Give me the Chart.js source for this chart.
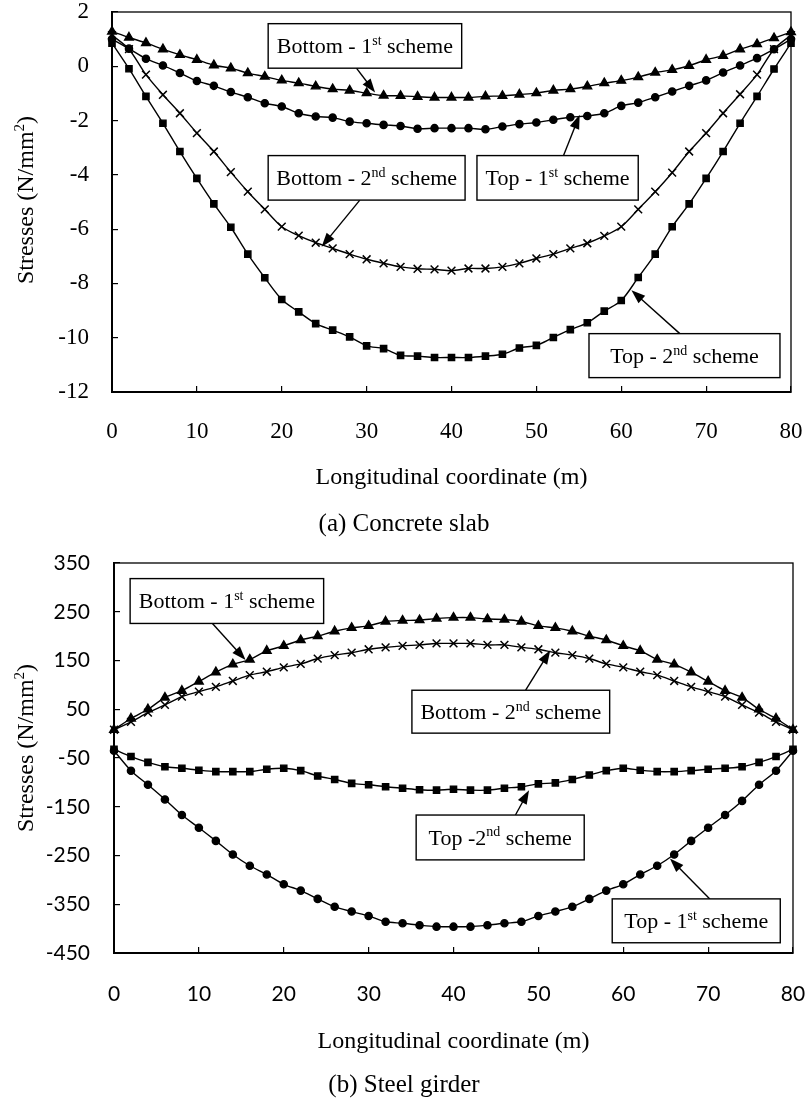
<!DOCTYPE html>
<html>
<head>
<meta charset="utf-8">
<script src="https://cdn.jsdelivr.net/npm/chart.js@4.4.1/dist/chart.umd.min.js"></script>
<style>
  html, body { margin: 0; padding: 0; background: #fff; }
  #chartA { position: absolute; left: 0; top: 0; }
  #chartB { position: absolute; left: 0; top: 545px; }
</style>
</head>
<body>
<canvas id="chartA" width="806" height="545"></canvas>
<canvas id="chartB" width="806" height="555"></canvas>
<script>
// longitudinal coordinate (m), one station every 2 m
const positions = [0, 2, 4, 6, 8, 10, 12, 14, 16, 18, 20, 22, 24, 26, 28, 30, 32, 34, 36, 38, 40,
  42, 44, 46, 48, 50, 52, 54, 56, 58, 60, 62, 64, 66, 68, 70, 72, 74, 76, 78, 80];

// (a) concrete slab stresses (N/mm2)
const slabBottom1 = [1.28, 1.06, 0.86, 0.63, 0.42, 0.24, 0.04, -0.07, -0.25, -0.38, -0.52, -0.62, -0.74, -0.84, -0.89, -0.99, -1.08, -1.09, -1.12, -1.15, -1.15,
  -1.15, -1.11, -1.09, -1.04, -0.99, -0.89, -0.84, -0.74, -0.62, -0.53, -0.40, -0.23, -0.13, 0.02, 0.24, 0.39, 0.63, 0.82, 1.04, 1.26];
const slabTop1 = [1.0, 0.65, 0.28, 0.03, -0.25, -0.54, -0.72, -0.95, -1.14, -1.36, -1.48, -1.73, -1.85, -1.89, -2.04, -2.10, -2.16, -2.20, -2.30, -2.28, -2.28,
  -2.28, -2.32, -2.22, -2.13, -2.07, -1.97, -1.88, -1.83, -1.73, -1.46, -1.34, -1.14, -0.93, -0.72, -0.52, -0.23, 0.03, 0.30, 0.63, 1.0];
const slabBottom2 = [1.15, 0.63, -0.31, -1.05, -1.73, -2.46, -3.14, -3.90, -4.62, -5.27, -5.91, -6.24, -6.50, -6.71, -6.92, -7.11, -7.26, -7.39, -7.46, -7.48, -7.53,
  -7.45, -7.45, -7.39, -7.26, -7.08, -6.92, -6.71, -6.52, -6.25, -5.91, -5.27, -4.62, -3.92, -3.14, -2.46, -1.73, -1.03, -0.31, 0.63, 1.15];
const slabTop2 = [0.85, -0.09, -1.11, -2.10, -3.14, -4.13, -5.07, -5.93, -6.92, -7.79, -8.59, -9.05, -9.48, -9.72, -9.97, -10.30, -10.40, -10.65, -10.68, -10.73, -10.73,
  -10.73, -10.68, -10.61, -10.38, -10.28, -9.99, -9.70, -9.45, -9.02, -8.63, -7.78, -6.92, -5.91, -5.07, -4.13, -3.14, -2.10, -1.11, -0.10, 0.85];

// (b) steel girder stresses (N/mm2)
const girderBottom1 = [8, 31, 50, 74, 88, 107, 126, 142, 152, 170, 180, 192, 200, 210, 217, 221, 230, 232, 233, 236, 238,
  238, 235, 234, 230, 221, 217, 210, 200, 192, 180, 170, 152, 142, 126, 107, 88, 74, 50, 31, 8];
const girderBottom2 = [8, 24, 43, 59, 76, 86, 96, 108, 120, 127, 136, 143, 154, 161, 166, 173, 177, 180, 182, 185, 185,
  185, 182, 182, 177, 173, 166, 161, 154, 143, 136, 127, 120, 108, 96, 86, 76, 59, 43, 24, 8];
const girderTop2 = [-32, -47, -59, -68, -71, -75, -78, -78, -78, -73, -71, -76, -87, -94, -102, -105, -109, -112, -115, -116, -114,
  -116, -116, -112, -109, -103, -101, -94, -85, -76, -71, -75, -78, -78, -76, -73, -71, -68, -59, -47, -32];
const girderTop1 = [-35, -76, -105, -135, -167, -193, -220, -248, -271, -289, -309, -322, -339, -355, -365, -374, -386, -389, -393, -396, -396,
  -396, -393, -389, -386, -374, -365, -355, -339, -322, -309, -289, -271, -248, -220, -193, -167, -138, -105, -76, -35];

// axis ranges and tick steps
const slabRange = [-12, 2, 2];
const girderRange = [-450, 350, 100];
const xRange = [0, 80, 10];

// callout boxes: box [x0, x1, yTop, yBottom], arrow from -> to, in data units
const slabNotes = [
  { parts: [['Bottom - 1', 0], ['st', 1], [' scheme', 0]], box: [18.4, 41.2, 1.57, -0.07], from: [28.8, -0.07], to: [31, -0.97] },
  { parts: [['Bottom - 2', 0], ['nd', 1], [' scheme', 0]], box: [18.4, 41.6, -3.29, -4.93], from: [29.2, -4.93], to: [24.7, -6.65] },
  { parts: [['Top - 1', 0], ['st', 1], [' scheme', 0]], box: [43.0, 62.0, -3.29, -4.93], from: [53.2, -3.29], to: [55.1, -1.79] },
  { parts: [['Top - 2', 0], ['nd', 1], [' scheme', 0]], box: [56.2, 78.7, -9.85, -11.47], from: [66.9, -9.85], to: [61.2, -8.25] }
];
const girderNotes = [
  { parts: [['Bottom - 1', 0], ['st', 1], [' scheme', 0]], box: [1.9, 24.7, 318, 226], from: [11.6, 226], to: [15.5, 151] },
  { parts: [['Bottom - 2', 0], ['nd', 1], [' scheme', 0]], box: [35.1, 58.4, 89, 1], from: [48.5, 89], to: [51.4, 171] },
  { parts: [['Top -2', 0], ['nd', 1], [' scheme', 0]], box: [35.6, 55.4, -167, -259], from: [47.3, -167], to: [48.9, -116] },
  { parts: [['Top - 1', 0], ['st', 1], [' scheme', 0]], box: [58.7, 78.5, -339, -429], from: [70.2, -339], to: [65.5, -256] }
];

const SERIF = '"Liberation Serif", "Times New Roman", serif';
const SANS = 'Lato, "Open Sans", sans-serif';

// draws text made of [string, isSuperscript] parts, centred on (cx, cy)
function drawParts(ctx, parts, cx, cy, size) {
  const supSize = Math.round(size * 0.62);
  let total = 0;
  parts.forEach(p => {
    ctx.font = (p[1] ? supSize : size) + 'px ' + SERIF;
    total += ctx.measureText(p[0]).width;
  });
  let x = cx - total / 2;
  ctx.textAlign = 'left';
  ctx.textBaseline = 'alphabetic';
  parts.forEach(p => {
    ctx.font = (p[1] ? supSize : size) + 'px ' + SERIF;
    ctx.fillText(p[0], x, cy + size * 0.33 - (p[1] ? size * 0.38 : 0));
    x += ctx.measureText(p[0]).width;
  });
}

function drawArrow(ctx, x0, y0, x1, y1) {
  const ang = Math.atan2(y1 - y0, x1 - x0);
  const len = 14, half = 5;
  ctx.beginPath();
  ctx.moveTo(x0, y0);
  ctx.lineTo(x1 - Math.cos(ang) * len * 0.8, y1 - Math.sin(ang) * len * 0.8);
  ctx.stroke();
  ctx.beginPath();
  ctx.moveTo(x1, y1);
  ctx.lineTo(x1 - Math.cos(ang) * len + Math.sin(ang) * half, y1 - Math.sin(ang) * len - Math.cos(ang) * half);
  ctx.lineTo(x1 - Math.cos(ang) * len - Math.sin(ang) * half, y1 - Math.sin(ang) * len + Math.cos(ang) * half);
  ctx.closePath();
  ctx.fill();
}

function buildChart(id, o) {
  const styles = {
    triangle: { pointStyle: 'triangle', pointRadius: 5 },
    circle: { pointStyle: 'circle', pointRadius: 3.6 },
    cross: { pointStyle: 'crossRot', pointRadius: 5.5, pointBorderWidth: 1.5 },
    square: { pointStyle: 'rect', pointRadius: 4.4 }
  };

  const decor = {
    id: 'decor' + id,
    afterDatasetsDraw(chart) {
      const { ctx, chartArea: a, scales: { x, y } } = chart;
      ctx.save();
      ctx.strokeStyle = '#000';
      ctx.fillStyle = '#000';
      ctx.lineWidth = 1.3;
      ctx.strokeRect(a.left, a.top, a.right - a.left, a.bottom - a.top);

      o.notes.forEach(n => {
        const bx0 = x.getPixelForValue(n.box[0]), bx1 = x.getPixelForValue(n.box[1]);
        const by0 = y.getPixelForValue(n.box[2]), by1 = y.getPixelForValue(n.box[3]);
        ctx.lineWidth = 1.4;
        drawArrow(ctx, x.getPixelForValue(n.from[0]), y.getPixelForValue(n.from[1]),
          x.getPixelForValue(n.to[0]), y.getPixelForValue(n.to[1]));
        ctx.fillStyle = '#fff';
        ctx.fillRect(bx0, by0, bx1 - bx0, by1 - by0);
        ctx.strokeRect(bx0, by0, bx1 - bx0, by1 - by0);
        ctx.fillStyle = '#000';
        drawParts(ctx, n.parts, (bx0 + bx1) / 2, (by0 + by1) / 2, 22);
      });
      ctx.restore();
    },
    afterDraw(chart) {
      const { ctx, chartArea: a } = chart;
      ctx.save();
      ctx.fillStyle = '#000';
      // y title, rotated
      ctx.translate(25, o.yTitleY);
      ctx.rotate(-Math.PI / 2);
      drawParts(ctx, [['Stresses (N/mm', 0], ['2', 1], [')', 0]], 0, 0, 24);
      ctx.restore();

      ctx.save();
      ctx.fillStyle = '#000';
      ctx.textAlign = 'center';
      ctx.textBaseline = 'middle';
      ctx.font = '24px ' + SERIF;
      ctx.fillText('Longitudinal coordinate (m)', (a.left + a.right) / 2, o.xTitleY);
      ctx.font = '25px ' + SERIF;
      ctx.fillText(o.caption, 404, o.captionY);
      ctx.restore();
    }
  };

  return new Chart(document.getElementById(id), {
    type: 'line',
    data: {
      datasets: o.series.map(s => Object.assign({
        data: positions.map((p, i) => ({ x: p, y: s.values[i] })),
        borderColor: '#000',
        backgroundColor: '#000',
        pointBackgroundColor: '#000',
        pointBorderColor: '#000',
        borderWidth: 1.4,
        tension: 0.3,
        fill: false,
        clip: false
      }, styles[s.mark]))
    },
    options: {
      responsive: false,
      animation: false,
      events: [],
      layout: { padding: { top: o.padTop, right: o.padRight, left: 0, bottom: 0 } },
      plugins: { legend: { display: false }, tooltip: { enabled: false }, title: { display: false } },
      scales: {
        x: {
          type: 'linear',
          min: xRange[0],
          max: xRange[1],
          // fixed axis height; label overhang is handled by the layout padding
          afterFit: s => { s.height = o.xAxisH; s.paddingLeft = 0; s.paddingRight = 0; },
          ticks: { stepSize: xRange[2], padding: o.xPad, maxRotation: 0, color: '#000', font: { family: o.tickFont, size: o.tickSize, lineHeight: 1 } },
          grid: { drawOnChartArea: false, drawTicks: true, tickLength: -6, color: '#000', lineWidth: 1.2 },
          border: { color: '#000', width: 2 }
        },
        y: {
          type: 'linear',
          min: o.range[0],
          max: o.range[1],
          // fixed axis width; drop the label overhang so the plot top sits on the padding
          afterFit: s => { s.width = o.yAxisW; s.paddingTop = 0; s.paddingBottom = 0; },
          ticks: { stepSize: o.range[2], padding: o.yPad, color: '#000', font: { family: o.tickFont, size: o.tickSize, lineHeight: 1 } },
          grid: { drawOnChartArea: false, drawTicks: true, tickLength: -6, color: '#000', lineWidth: 1.2 },
          border: { color: '#000', width: 2 }
        }
      }
    },
    plugins: [decor]
  });
}

buildChart('chartA', {
  series: [
    { values: slabBottom1, mark: 'triangle' },
    { values: slabTop1, mark: 'circle' },
    { values: slabBottom2, mark: 'cross' },
    { values: slabTop2, mark: 'square' }
  ],
  notes: slabNotes,
  range: slabRange,
  padTop: 12, padRight: 15, yAxisW: 112, xAxisH: 153,
  xPad: 34, yPad: 29,
  tickFont: SERIF, tickSize: 23,
  yTitleY: 200, xTitleY: 478, captionY: 524,
  caption: '(a) Concrete slab'
});

buildChart('chartB', {
  series: [
    { values: girderBottom1, mark: 'triangle' },
    { values: girderBottom2, mark: 'cross' },
    { values: girderTop2, mark: 'square' },
    { values: girderTop1, mark: 'circle' }
  ],
  notes: girderNotes,
  range: girderRange,
  padTop: 18, padRight: 13, yAxisW: 114, xAxisH: 147,
  xPad: 37, yPad: 30,
  tickFont: SANS, tickSize: 21,
  yTitleY: 203, xTitleY: 497, captionY: 540,
  caption: '(b) Steel girder'
});
</script>
</body>
</html>
